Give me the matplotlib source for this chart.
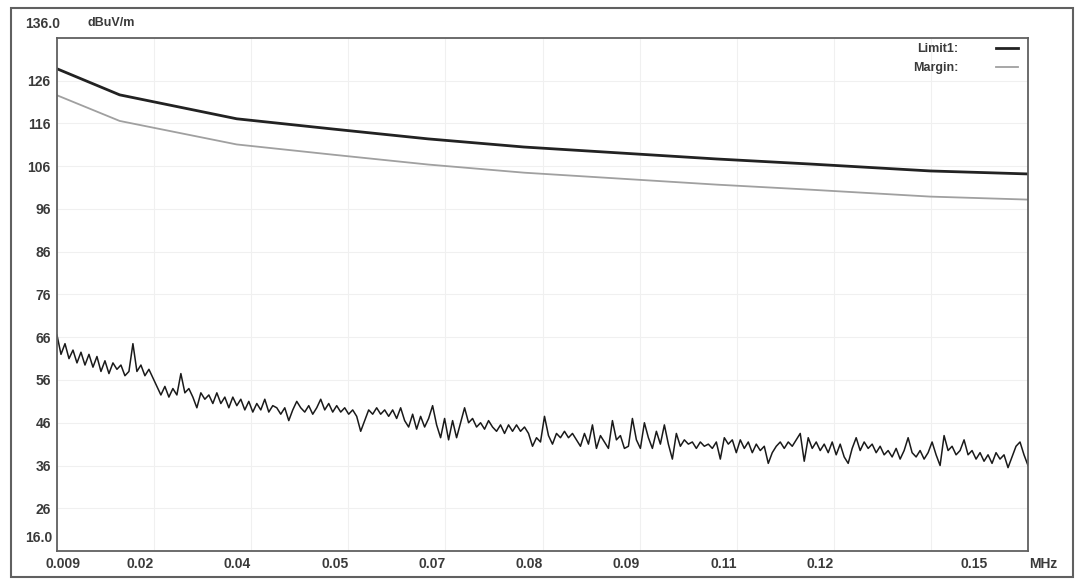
import numpy as np
import matplotlib.pyplot as plt
from matplotlib.transforms import ScaledTranslation
from matplotlib.patches import Rectangle

# axis range (MHz, dBuV/m)
freq_min, freq_max = 0.009, 0.15
level_min, level_max = 16, 136

x_tick_labels = ["0.009", "0.02", "0.04", "0.05", "0.07", "0.08",
                 "0.09", "0.11", "0.12", "", "0.15"]
y_ticks = [16, 26, 36, 46, 56, 66, 76, 86, 96, 106, 116, 126, 136]
y_tick_labels = ["16.0", "26", "36", "46", "56", "66", "76", "86",
                 "96", "106", "116", "126", "136.0"]

# limit lines
limit_freq = [0.009, 0.0181, 0.0351, 0.0491, 0.0629, 0.0768,
              0.0908, 0.1048, 0.1186, 0.1358, 0.15]
limit1 = [128.8, 122.7, 117.1, 114.7, 112.4, 110.5,
          109.1, 107.7, 106.5, 104.9, 104.2]
margin = [122.6, 116.6, 111.1, 108.7, 106.4, 104.5,
          103.1, 101.7, 100.5, 98.9, 98.2]

# measured trace (dBuV/m), evenly spaced sweep points
trace = [
    66.5, 62.0, 64.5, 61.0, 63.0, 60.0, 62.5, 59.5, 62.0, 59.0,
    61.5, 58.0, 60.5, 57.5, 60.0, 58.5, 59.5, 57.0, 58.0, 64.5,
    58.0, 59.5, 57.0, 58.5, 56.5, 54.5, 52.5, 54.5, 52.0, 54.0,
    52.5, 57.5, 53.0, 54.0, 52.0, 49.5, 53.0, 51.5, 52.5, 50.5,
    53.0, 50.5, 52.0, 49.5, 52.0, 50.0, 51.5, 49.0, 51.0, 48.5,
    50.5, 49.0, 51.5, 48.5, 50.0, 49.5, 48.0, 49.5, 46.5, 49.0,
    51.0, 49.5, 48.5, 50.0, 48.0, 49.5, 51.5, 49.0, 50.5, 48.5,
    50.0, 48.5, 49.5, 48.0, 49.0, 47.5, 44.0, 46.5, 49.0, 48.0,
    49.5, 48.0, 49.0, 47.5, 49.0, 47.0, 49.5, 46.5, 45.0, 48.0,
    44.5, 47.5, 45.0, 47.0, 50.0, 45.5, 42.5, 47.0, 42.0, 46.5,
    42.5, 46.0, 49.5, 46.0, 47.0, 45.0, 46.0, 44.5, 46.5, 45.0,
    44.0, 45.5, 43.5, 45.5, 44.0, 45.5, 44.0, 45.0, 43.5, 40.5,
    42.5, 41.5, 47.5, 43.0, 41.0, 43.5, 42.5, 44.0, 42.5, 43.5,
    42.0, 40.5, 43.5, 41.0, 45.5, 40.0, 43.0, 41.5, 40.0, 46.5,
    42.0, 43.0, 40.0, 40.5, 47.0, 42.0, 40.0, 46.0, 42.5, 40.0,
    44.0, 41.0, 45.5, 41.0, 37.5, 43.5, 40.5, 42.0, 41.0, 41.5,
    40.0, 41.5, 40.5, 41.0, 40.0, 41.5, 37.5, 42.5, 41.0, 42.0,
    39.0, 42.0, 40.0, 41.5, 39.0, 41.0, 39.5, 40.5, 36.5, 39.0,
    40.5, 41.5, 40.0, 41.5, 40.5, 42.0, 43.5, 37.0, 42.5, 40.0,
    41.5, 39.5, 41.0, 39.0, 41.5, 38.5, 41.0, 38.0, 36.5, 40.0,
    42.5, 39.5, 41.5, 40.0, 41.0, 39.0, 40.5, 38.5, 39.5, 38.0,
    40.0, 37.5, 39.5, 42.5, 39.0, 38.0, 39.5, 37.5, 39.0, 41.5,
    38.5, 36.0, 43.0, 39.5, 40.5, 38.5, 39.5, 42.0, 38.5, 39.5,
    37.5, 39.0, 37.0, 38.5, 36.5, 39.0, 37.5, 38.5, 35.5, 38.0,
    40.5, 41.5, 38.5, 36.0,
]

text_kw = dict(family="Liberation Sans", weight="bold", color="#3a3a3a")
fs = 10

fig = plt.figure(figsize=(10.77, 5.79), dpi=100, facecolor="white")
ax = fig.add_axes([57 / 1077, 1 - 551 / 579, 971 / 1077, 513 / 579])

trace_freq = np.linspace(freq_min, freq_max, len(trace))
ax.plot(trace_freq, trace, color="#1a1a1a", lw=1.1)
l1, = ax.plot(limit_freq, limit1, color="#222222", lw=2.0, label="Limit1:")
m1, = ax.plot(limit_freq, margin, color="#a0a0a0", lw=1.3, label="Margin:")

ax.set_xlim(freq_min, freq_max)
ax.set_ylim(level_min, level_max)

ax.set_xticks(np.linspace(freq_min, freq_max, 11))
ax.set_xticklabels(x_tick_labels, fontsize=fs, **text_kw)
ax.set_yticks(y_ticks)
ax.set_yticklabels(y_tick_labels, fontsize=fs, **text_kw)
ax.tick_params(length=0, pad=4.5)
ax.grid(True, color="#f0f0f0", lw=0.8)
for s in ax.spines.values():
    s.set_color("#606060")
    s.set_linewidth(1.3)

# label placement like the analyser software
xlabels = ax.get_xticklabels()
for i, lab in enumerate(xlabels):
    if i == 0:
        lab.set_ha("center")
        lab.set_transform(lab.get_transform() + ScaledTranslation(6 / 100, 0, fig.dpi_scale_trans))
    elif i == len(xlabels) - 1:
        lab.set_ha("right")
        lab.set_transform(lab.get_transform() + ScaledTranslation(-40 / 100, 0, fig.dpi_scale_trans))
    else:
        lab.set_ha("right")
ylabels = ax.get_yticklabels()
ylabels[0].set_transform(ylabels[0].get_transform() + ScaledTranslation(2 / 100, 14 / 100, fig.dpi_scale_trans))
ylabels[-1].set_ha("left")
ylabels[-1].set_transform(ylabels[-1].get_transform() + ScaledTranslation(-26 / 100, 15 / 100, fig.dpi_scale_trans))

fig.text(88 / 1077, 1 - 23 / 579, "dBuV/m", fontsize=fs - 1, va="center", **text_kw)
fig.text(1029 / 1077, 1 - 564 / 579, "MHz", fontsize=fs, va="center", **text_kw)

leg = ax.legend(handles=[l1, m1], loc="upper right", markerfirst=False,
                frameon=False, bbox_to_anchor=(0.99, 0.99), borderaxespad=0,
                borderpad=0, handlelength=1.8, handletextpad=3.0,
                labelspacing=0.55, prop=dict(family="Liberation Sans", weight="bold", size=fs - 1))
for t in leg.get_texts():
    t.set_color("#3a3a3a")

fig.patches.append(Rectangle((11 / 1077, 2 / 579), 1062 / 1077, 569 / 579,
                             transform=fig.transFigure, fill=False,
                             edgecolor="#606060", lw=1.5))

fig.savefig("out.png", dpi=100, facecolor="white")
